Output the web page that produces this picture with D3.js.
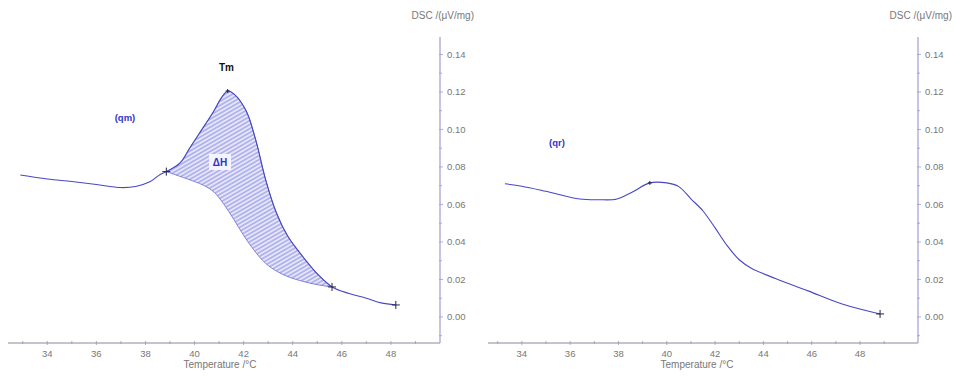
<!DOCTYPE html>
<html>
<head>
<meta charset="utf-8">
<script src="https://cdn.jsdelivr.net/npm/d3@7/dist/d3.min.js"></script>
<style>
  body { margin: 0; background: #fff; }
  text { font-family: "Liberation Sans", Arial, sans-serif; }
  .tick-label { font-size: 9.5px; fill: #777; }
  .axis-title { font-size: 10px; fill: #777; }
</style>
</head>
<body>
<svg id="chart" width="955" height="377"></svg>
<script>
// tick values
var xTicks = [34, 36, 38, 40, 42, 44, 46, 48];
var yTicks = [0.00, 0.02, 0.04, 0.06, 0.08, 0.10, 0.12, 0.14];

// (qm) measured curve
var qmTemp = [32.9, 34.0, 35.0, 36.0, 37.0, 37.6, 38.2, 38.6, 38.85, 39.4, 39.8, 40.2, 40.75, 41.1, 41.35, 41.6, 42.1, 42.5, 42.9, 43.35, 43.8, 44.3, 45.0, 45.6, 46.3, 47.0, 47.6, 48.2];
var qmDsc  = [0.0757, 0.0736, 0.0722, 0.0706, 0.0690, 0.0696, 0.0722, 0.0760, 0.0775, 0.0820, 0.0900, 0.0980, 0.1090, 0.1170, 0.1205, 0.1190, 0.1100, 0.0940, 0.0730, 0.0550, 0.0430, 0.0340, 0.0230, 0.0160, 0.0125, 0.0100, 0.0075, 0.0064];

// (qm) integration baseline under the peak
var qmBaseTemp = [38.85, 39.4, 40.0, 40.4, 40.8, 41.2, 41.6, 42.0, 42.4, 42.9, 43.4, 43.9, 44.5, 45.0, 45.6];
var qmBaseDsc  = [0.0775, 0.0750, 0.0722, 0.0700, 0.0665, 0.0600, 0.0520, 0.0435, 0.0360, 0.0285, 0.0240, 0.0210, 0.0187, 0.0172, 0.0160];

// (qr) measured curve
var qrTemp = [33.3, 34.0, 35.0, 36.4, 37.2, 37.94, 38.6, 39.3, 40.0, 40.5, 41.0, 41.5, 42.0, 42.5, 43.0, 43.5, 44.5, 45.85, 47.26, 48.83];
var qrDsc  = [0.0710, 0.0697, 0.0670, 0.0629, 0.0625, 0.0629, 0.0668, 0.0715, 0.0715, 0.0695, 0.0630, 0.0565, 0.0475, 0.0380, 0.0305, 0.0260, 0.0205, 0.0139, 0.0069, 0.0016];

var svg = d3.select("#chart");

var defs = svg.append("defs");
var pat = defs.append("pattern")
    .attr("id", "hatch")
    .attr("patternUnits", "userSpaceOnUse")
    .attr("width", 3.5)
    .attr("height", 3.5)
    .attr("patternTransform", "rotate(-30)");
pat.append("rect").attr("width", 3.5).attr("height", 3.5).attr("fill", "#e6e6fb");
pat.append("line")
    .attr("x1", 0).attr("y1", 1.75).attr("x2", 3.5).attr("y2", 1.75)
    .attr("stroke", "#7474da").attr("stroke-width", 0.8);

function zip(t, v) {
  return t.map(function(d, i) { return [d, v[i]]; });
}

function drawPanel(opt) {
  var x = d3.scaleLinear().domain(opt.xDomain).range(opt.xRange);
  var y = d3.scaleLinear().domain([-0.0139, 0.1493]).range([343, 37]);
  var g = svg.append("g");

  var axisX = opt.xRange[1];

  // x axis
  g.append("line")
    .attr("x1", opt.xRange[0]).attr("x2", axisX)
    .attr("y1", 343).attr("y2", 343)
    .attr("stroke", "#8a8a9a").attr("stroke-width", 1);
  d3.range(33, 50).forEach(function(t) {
    if (x(t) < opt.xRange[0] || x(t) > axisX) return;
    var major = t % 2 === 0;
    g.append("line")
      .attr("x1", x(t)).attr("x2", x(t))
      .attr("y1", 343 - 2).attr("y2", 343 + (major ? 2 : 1))
      .attr("stroke", "#9a9aaa").attr("stroke-width", 0.8);
  });
  g.selectAll(".xl").data(xTicks).enter().append("text")
    .attr("class", "tick-label")
    .attr("x", function(d) { return x(d); })
    .attr("y", 357)
    .attr("text-anchor", "middle")
    .text(function(d) { return d; });
  g.append("text")
    .attr("class", "axis-title")
    .attr("x", opt.titleX)
    .attr("y", 368)
    .attr("text-anchor", "middle")
    .text("Temperature /°C");

  // y axis (right side)
  g.append("line")
    .attr("x1", axisX).attr("x2", axisX)
    .attr("y1", 37).attr("y2", 343)
    .attr("stroke", "#8c8cc8").attr("stroke-width", 1);
  d3.range(-1, 15).forEach(function(k) {
    var v = k * 0.01;
    var major = k % 2 === 0 && k >= 0;
    g.append("line")
      .attr("x1", axisX - 1).attr("x2", axisX + (major ? 3 : 2))
      .attr("y1", y(v)).attr("y2", y(v))
      .attr("stroke", "#9a9ad0").attr("stroke-width", 0.8);
  });
  g.selectAll(".yl").data(yTicks).enter().append("text")
    .attr("class", "tick-label")
    .attr("x", axisX + 7)
    .attr("y", function(d) { return y(d) + 3.5; })
    .text(function(d) { return d.toFixed(2); });
  g.append("text")
    .attr("class", "axis-title")
    .attr("x", axisX + 34)
    .attr("y", 19)
    .attr("text-anchor", "end")
    .text("DSC /(μV/mg)");

  var line = d3.line()
    .x(function(d) { return x(d[0]); })
    .y(function(d) { return y(d[1]); })
    .curve(d3.curveCatmullRom);

  return { g: g, x: x, y: y, line: line };
}

function plus(p, pt, size) {
  var cx = p.x(pt[0]), cy = p.y(pt[1]);
  p.g.append("path")
    .attr("d", "M" + (cx - size) + "," + cy + "H" + (cx + size) + "M" + cx + "," + (cy - size) + "V" + (cy + size))
    .attr("stroke", "#222244").attr("stroke-width", 1).attr("fill", "none");
}

// left panel (qm)
var left = drawPanel({ xDomain: [32.4, 50], xRange: [8, 440], titleX: 220 });
var qm = zip(qmTemp, qmDsc);
var qmBase = zip(qmBaseTemp, qmBaseDsc);
var peakPart = qm.filter(function(d) { return d[0] >= 38.85 && d[0] <= 45.6; });

left.g.append("path")
  .attr("d", left.line(peakPart) + "L" + left.line(qmBase.slice().reverse()).slice(1) + "Z")
  .attr("fill", "url(#hatch)")
  .attr("stroke", "#6a6ad0")
  .attr("stroke-width", 0.8);

left.g.append("path")
  .attr("d", left.line(qm))
  .attr("fill", "none")
  .attr("stroke", "#4848c0")
  .attr("stroke-width", 1.1);

plus(left, [38.85, 0.0775], 4);
plus(left, [45.6, 0.016], 4);
plus(left, [48.2, 0.0064], 4);
plus(left, [41.35, 0.1205], 2);

left.g.append("text")
  .attr("x", left.x(41.3)).attr("y", 71)
  .attr("text-anchor", "middle")
  .attr("font-size", 10).attr("font-weight", "bold").attr("fill", "#111")
  .text("Tm");
left.g.append("text")
  .attr("x", 125).attr("y", 121)
  .attr("text-anchor", "middle")
  .attr("font-size", 9.5).attr("font-weight", "bold").attr("fill", "#3434c8")
  .text("(qm)");
left.g.append("rect")
  .attr("x", 209).attr("y", 154).attr("width", 22).attr("height", 16)
  .attr("fill", "#f4f4ff");
left.g.append("text")
  .attr("x", 220).attr("y", 166)
  .attr("text-anchor", "middle")
  .attr("font-size", 10).attr("font-weight", "bold").attr("fill", "#3030c8")
  .text("ΔH");

// right panel (qr)
var right = drawPanel({ xDomain: [32.6, 50.4], xRange: [488, 918], titleX: 697 });
var qr = zip(qrTemp, qrDsc);
right.g.append("path")
  .attr("d", right.line(qr))
  .attr("fill", "none")
  .attr("stroke", "#4848c0")
  .attr("stroke-width", 1.1);
plus(right, [48.83, 0.0016], 4);
plus(right, [39.3, 0.0715], 2);
right.g.append("text")
  .attr("x", 557).attr("y", 146)
  .attr("text-anchor", "middle")
  .attr("font-size", 9.5).attr("font-weight", "bold").attr("fill", "#3434c8")
  .text("(qr)");
</script>
</body>
</html>
